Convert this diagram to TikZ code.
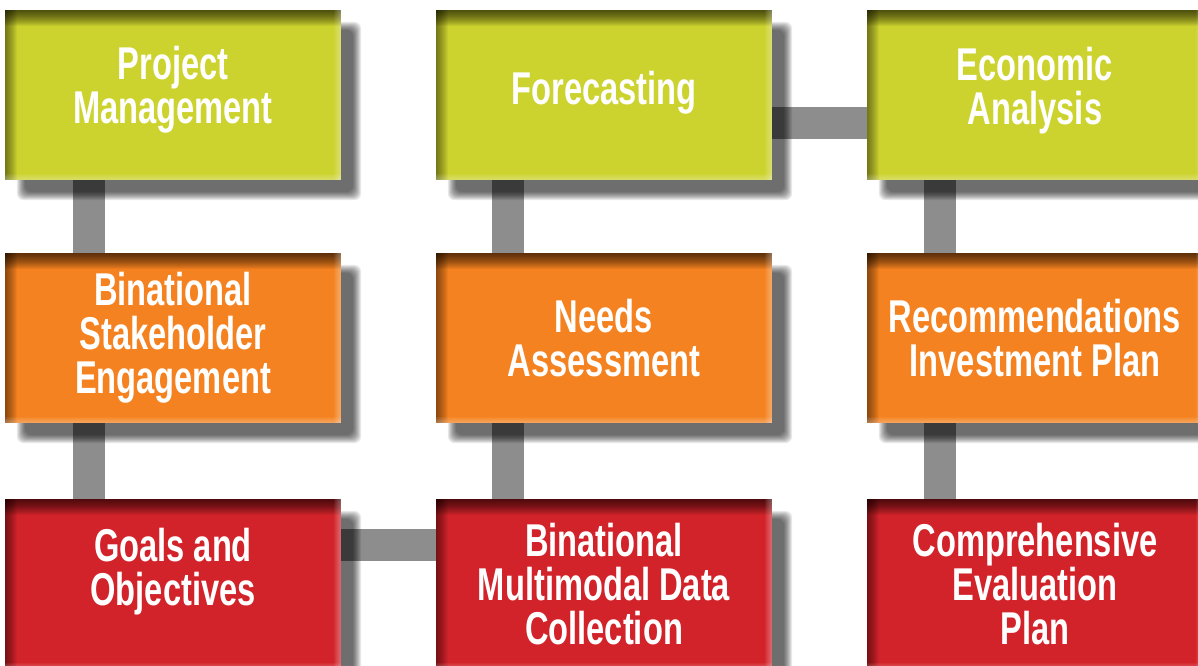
\documentclass[tikz,border=0pt]{standalone}
\usepackage{fontspec}
\newfontfamily\stagefont[FakeStretch=0.71]{Liberation Sans}
\usetikzlibrary{positioning,backgrounds}
\pgfdeclarelayer{shadow}
\pgfsetlayers{background,shadow,main}
\definecolor{stagegreen}{HTML}{CCD32E}
\definecolor{stageorange}{HTML}{F58220}
\definecolor{stagered}{HTML}{D2232A}
\definecolor{linkgray}{HTML}{8E8D8E}
\tikzset{
  stage/.style={minimum width=336pt,minimum height=170pt,inner sep=0pt,
    align=center,text=white,fill=#1,
    font=\stagefont\bfseries\fontsize{46}{44}\selectfont,
    path picture={
      % dark inner edge at the top and left, light one at right and bottom
      \foreach \d in {1,...,16}
        \fill[black,opacity=.055] (path picture bounding box.north west)
          rectangle ([yshift=-\d pt]path picture bounding box.north east);
      \foreach \d in {1,...,12}
        \fill[black,opacity=.045] (path picture bounding box.north west)
          rectangle ([xshift=\d pt]path picture bounding box.south west);
      \foreach \d in {1,...,7}
        \fill[white,opacity=.05] (path picture bounding box.north east)
          rectangle ([xshift=-\d pt]path picture bounding box.south east);
      \foreach \d in {1,...,6}
        \fill[white,opacity=.05] (path picture bounding box.south west)
          rectangle ([yshift=\d pt]path picture bounding box.south east);
    }},
  link/.style={linkgray,line width=32pt},
  dropshadow/.style={black,opacity=.088,rounded corners=7pt}
}
\begin{document}
\begin{tikzpicture}[x=1pt,y=-1pt]
\useasboundingbox (0,0) rectangle (1198,665);
% top row
\node[stage=stagegreen,text depth=20pt] (pm) at (173,95) {Project\\Management};
\node[stage=stagegreen,text depth=14pt] (fc) at (604,95) {Forecasting};
\node[stage=stagegreen,text depth=18pt] (ea) at (1035,95) {Economic\\Analysis};
% middle row
\node[stage=stageorange] (bse) at (173,338) {Binational\\Stakeholder\\Engagement};
\node[stage=stageorange] (na) at (604,338) {Needs\\Assessment};
\node[stage=stageorange] (rip) at (1035,338) {Recommendations\\Investment Plan};
% bottom row
\node[stage=stagered,text depth=34pt] (go) at (173,584) {Goals and\\Objectives};
\node[stage=stagered] (mdc) at (604,584) {Binational\\Multimodal Data\\Collection};
\node[stage=stagered] (cep) at (1035,584) {Comprehensive\\Evaluation\\Plan};
% soft shadows
\begin{pgfonlayer}{shadow}
\foreach \n in {pm,fc,ea,bse,na,rip,go,mdc,cep}
  \foreach \e in {-4,...,4}
    \fill[dropshadow] ([shift={(16pt-\e pt,-16pt+\e pt)}]\n.north west)
      rectangle ([shift={(16pt+\e pt,-16pt-\e pt)}]\n.south east);
\end{pgfonlayer}
% links
\begin{scope}[on background layer]
\fill[white] (0,0) rectangle (1198,665);
\draw[link] ([xshift=84pt]pm.south west) -- ([xshift=84pt]bse.north west);
\draw[link] ([xshift=84pt]bse.south west) -- ([xshift=84pt]go.north west);
\draw[link] ([xshift=72pt]fc.south west) -- ([xshift=72pt]na.north west);
\draw[link] ([xshift=72pt]na.south west) -- ([xshift=72pt]mdc.north west);
\draw[link] ([xshift=73pt]ea.south west) -- ([xshift=73pt]rip.north west);
\draw[link] ([xshift=73pt]rip.south west) -- ([xshift=73pt]cep.north west);
\draw[link] ([yshift=-113pt]fc.north east) -- ([yshift=-113pt]ea.north west);
\draw[link] ([yshift=-46pt]go.north east) -- ([yshift=-46pt]mdc.north west);
\end{scope}
\end{tikzpicture}
\end{document}
